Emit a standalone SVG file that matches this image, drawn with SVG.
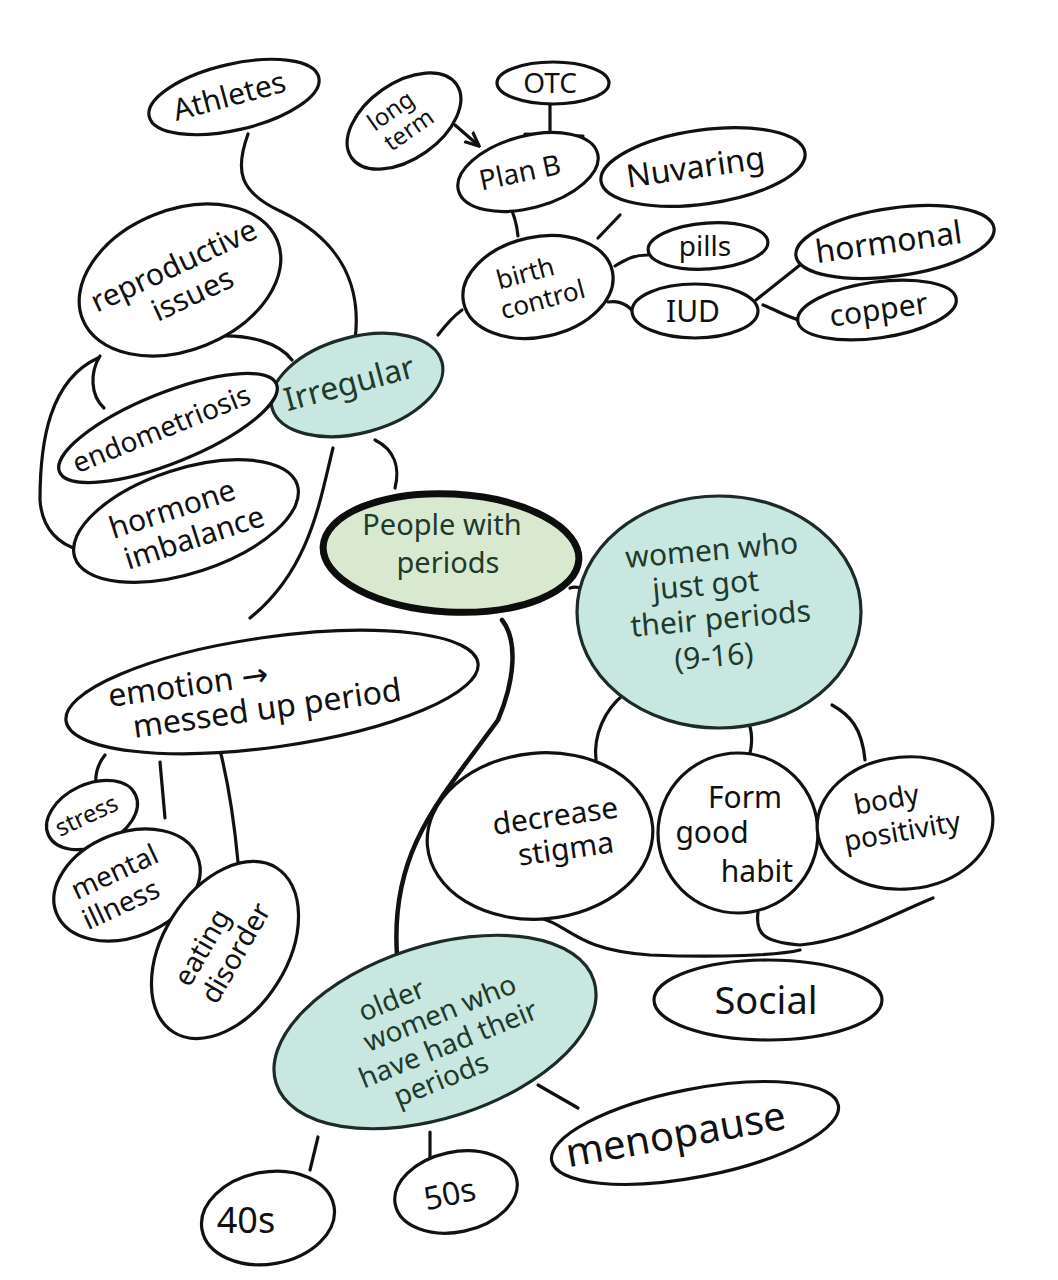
<svg xmlns="http://www.w3.org/2000/svg" width="1058" height="1280" viewBox="0 0 1058 1280">
<defs>
<style>
.n{fill:#fff;stroke:#111;stroke-width:3.2}
.t{fill:#c8e7e0;stroke:#1c2b26;stroke-width:3.2}
.c{fill:#d8e9d0;stroke:#0d0d0d;stroke-width:7}
.e{fill:none;stroke:#111;stroke-width:3.2;stroke-linecap:round}
.x{font-family:"Noto Sans","Open Sans",sans-serif;fill:#111;text-anchor:middle}
.g{fill:#1e3a2c}
</style>
<marker id="ah" viewBox="0 0 10 10" refX="8" refY="5" markerWidth="5" markerHeight="5" orient="auto"><path d="M0 1 L9 5 L0 9" fill="none" stroke="#111" stroke-width="2"/></marker>
</defs>
<rect width="1058" height="1280" fill="#fff"/>
<g id="connectors">
<path class="e" d="M248 134 C235 170 238 192 282 212 C340 240 362 285 355 340"/>
<path class="e" d="M205 337 C250 332 280 344 292 360"/>
<path class="e" d="M100 356 C90 372 90 395 104 408"/>
<path class="e" d="M98 358 C50 380 40 440 40 500 C42 530 60 545 80 550"/>
<path class="e" d="M375 440 C395 450 400 468 395 488"/>
<path class="e" d="M333 448 C320 500 310 570 250 618"/>
<path class="e" d="M438 335 C448 322 455 315 462 310"/>
<path class="e" d="M507 200 C515 215 517 225 518 236"/>
<path class="e" d="M550 105 L550 134 M525 134 L583 136"/>
<path class="e" d="M455 125 L478 145" marker-end="url(#ah)"/>
<path class="e" d="M620 215 L598 238"/>
<path class="e" d="M615 266 C628 258 635 255 648 255"/>
<path class="e" d="M608 302 C620 300 630 305 638 318"/>
<path class="e" d="M756 300 L800 265"/>
<path class="e" d="M763 305 C780 312 790 318 800 320"/>
<path class="e" d="M570 588 C580 585 585 590 587 598"/>
<path class="e" d="M502 620 C518 640 515 680 498 720 C440 800 390 850 397 955" style="stroke-width:4.5"/>
<path class="e" d="M623 695 C605 710 593 735 596 760"/>
<path class="e" d="M745 718 C752 725 753 740 750 753"/>
<path class="e" d="M832 705 C850 715 862 728 865 760"/>
<path class="e" d="M540 918 C570 925 575 950 650 955 C720 958 780 955 800 950"/>
<path class="e" d="M758 912 C755 935 765 942 800 945 C850 940 880 920 933 898"/>
<path class="e" d="M105 755 C97 765 95 775 96 785"/>
<path class="e" d="M160 762 L165 818"/>
<path class="e" d="M220 750 C230 790 235 830 238 862"/>
<path class="e" d="M318 1137 L310 1170"/>
<path class="e" d="M430 1132 L430 1160"/>
<path class="e" d="M538 1085 L578 1108"/>
</g>
<g id="athletes"><ellipse class="n" cx="234" cy="97" rx="87" ry="33" transform="rotate(-13 234 97)"/><text class="x" font-size="30" transform="translate(232 106) rotate(-15)">Athletes</text></g>
<g id="long-term"><ellipse class="n" cx="404" cy="121" rx="64" ry="38" transform="rotate(-35 404 121)"/><text class="x" font-size="24" transform="translate(400 124) rotate(-35)"><tspan x="0" y="-8">long</tspan><tspan x="4" y="18">term</tspan></text></g>
<g id="otc"><ellipse class="n" cx="553" cy="83" rx="56" ry="21"/><text class="x" font-size="28" x="550" y="93">OTC</text></g>
<g id="plan-b"><ellipse class="n" cx="528" cy="172" rx="72" ry="36" transform="rotate(-15 528 172)"/><text class="x" font-size="28" transform="translate(522 182) rotate(-12)">Plan B</text></g>
<g id="nuvaring"><ellipse class="n" cx="703" cy="167" rx="103" ry="37" transform="rotate(-8 703 167)"/><text class="x" font-size="32" transform="translate(697 178) rotate(-8)">Nuvaring</text></g>
<g id="birth-control"><ellipse class="n" cx="538" cy="287" rx="76" ry="50" transform="rotate(-12 538 287)"/><text class="x" font-size="26" transform="translate(536 290) rotate(-15)"><tspan x="-6" y="-10">birth</tspan><tspan x="4" y="20">control</tspan></text></g>
<g id="pills"><ellipse class="n" cx="708" cy="246" rx="60" ry="23" transform="rotate(-4 708 246)"/><text class="x" font-size="28" x="705" y="256">pills</text></g>
<g id="iud"><ellipse class="n" cx="695" cy="311" rx="63" ry="27"/><text class="x" font-size="30" x="693" y="322">IUD</text></g>
<g id="hormonal"><ellipse class="n" cx="895" cy="242" rx="100" ry="34" transform="rotate(-8 895 242)"/><text class="x" font-size="32" transform="translate(890 253) rotate(-8)">hormonal</text></g>
<g id="copper"><ellipse class="n" cx="877" cy="310" rx="80" ry="28" transform="rotate(-8 877 310)"/><text class="x" font-size="30" transform="translate(880 320) rotate(-8)">copper</text></g>
<g id="reproductive-issues"><ellipse class="n" cx="180" cy="280" rx="105" ry="70" transform="rotate(-22 180 280)"/><text class="x" font-size="30" transform="translate(178 275) rotate(-25)"><tspan x="0" y="0">reproductive</tspan><tspan x="5" y="34">issues</tspan></text></g>
<g id="irregular"><ellipse class="t" cx="357" cy="385" rx="88" ry="48" transform="rotate(-15 357 385)"/><text class="x g" font-size="32" transform="translate(352 394) rotate(-15)">Irregular</text></g>
<g id="endometriosis"><ellipse class="n" cx="168" cy="428" rx="117" ry="35" transform="rotate(-22 168 428)"/><text class="x" font-size="28" transform="translate(165 438) rotate(-22)">endometriosis</text></g>
<g id="hormone-imbalance"><ellipse class="n" cx="186" cy="521" rx="117" ry="52" transform="rotate(-18 186 521)"/><text class="x" font-size="30" transform="translate(185 522) rotate(-18)"><tspan x="-8" y="-6">hormone</tspan><tspan x="4" y="28">imbalance</tspan></text></g>
<g id="people-with-periods"><ellipse class="c" cx="451" cy="553" rx="128" ry="59" transform="rotate(3 451 553)"/><text class="x g" font-size="29"><tspan x="442" y="535">People with</tspan><tspan x="448" y="573">periods</tspan></text></g>
<g id="women-just-got"><ellipse class="t" cx="719" cy="612" rx="142" ry="116"/><text class="x g" font-size="30" transform="translate(720 612) rotate(-5)"><tspan x="-3" y="-52">women who</tspan><tspan x="-12" y="-18">just got</tspan><tspan x="0" y="17">their periods</tspan><tspan x="-10" y="54">(9-16)</tspan></text></g>
<g id="emotion"><ellipse class="n" cx="272" cy="692" rx="208" ry="55" transform="rotate(-8 272 692)"/><text class="x" font-size="32" transform="translate(260 694) rotate(-8)"><tspan x="-70" y="-8">emotion <tspan font-family="DejaVu Sans, sans-serif">→</tspan></tspan><tspan x="5" y="26">messed up period</tspan></text></g>
<g id="stress"><ellipse class="n" cx="92" cy="815" rx="48" ry="31" transform="rotate(-25 92 815)"/><text class="x" font-size="24" transform="translate(90 823) rotate(-25)">stress</text></g>
<g id="mental-illness"><ellipse class="n" cx="127" cy="885" rx="76" ry="52" transform="rotate(-22 127 885)"/><text class="x" font-size="28" transform="translate(122 888) rotate(-25)"><tspan x="0" y="-8">mental</tspan><tspan x="-8" y="24">illness</tspan></text></g>
<g id="eating-disorder"><ellipse class="n" cx="225" cy="950" rx="97" ry="62" transform="rotate(-58 225 950)"/><text class="x" font-size="28" transform="translate(222 952) rotate(-60)"><tspan x="-6" y="-10">eating</tspan><tspan x="6" y="22">disorder</tspan></text></g>
<g id="decrease-stigma"><ellipse class="n" cx="540" cy="836" rx="113" ry="83" transform="rotate(-5 540 836)"/><text class="x" font-size="30" transform="translate(558 836) rotate(-8)"><tspan x="0" y="-10">decrease</tspan><tspan x="6" y="24">stigma</tspan></text></g>
<g id="form-good-habit"><ellipse class="n" cx="738" cy="833" rx="80" ry="80"/><text class="x" font-size="30"><tspan x="745" y="808">Form</tspan><tspan x="712" y="843">good</tspan><tspan x="757" y="882">habit</tspan></text></g>
<g id="body-positivity"><ellipse class="n" cx="905" cy="823" rx="88" ry="66" transform="rotate(-5 905 823)"/><text class="x" font-size="28" transform="translate(895 820) rotate(-10)"><tspan x="-5" y="-12">body</tspan><tspan x="5" y="22">positivity</tspan></text></g>
<g id="social"><ellipse class="n" cx="768" cy="1000" rx="114" ry="40"/><text class="x" font-size="38" x="766" y="1014">Social</text></g>
<g id="older-women"><ellipse class="t" cx="435" cy="1032" rx="167" ry="86" transform="rotate(-18 435 1032)"/><text class="x g" font-size="28" transform="translate(438 1035) rotate(-22)"><tspan x="-30" y="-40">older</tspan><tspan x="10" y="-10">women who</tspan><tspan x="6" y="22">have had their</tspan><tspan x="-14" y="52">periods</tspan></text></g>
<g id="menopause"><ellipse class="n" cx="695" cy="1133" rx="146" ry="44" transform="rotate(-11 695 1133)"/><text class="x" font-size="40" transform="translate(678 1148) rotate(-10)">menopause</text></g>
<g id="40s"><ellipse class="n" cx="268" cy="1218" rx="67" ry="46" transform="rotate(-10 268 1218)"/><text class="x" font-size="36" x="246" y="1233">40s</text></g>
<g id="50s"><ellipse class="n" cx="456" cy="1192" rx="62" ry="40" transform="rotate(-12 456 1192)"/><text class="x" font-size="32" transform="translate(452 1205) rotate(-12)">50s</text></g>
</svg>
